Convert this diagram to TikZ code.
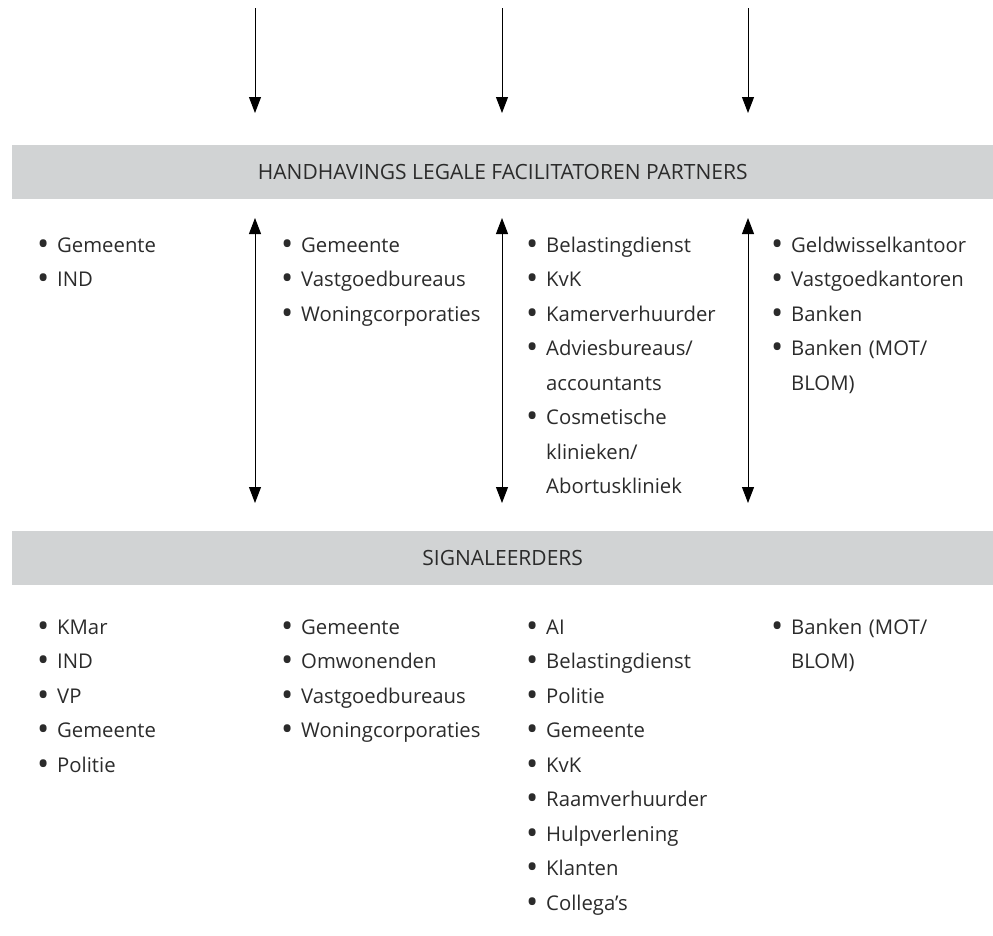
\documentclass[tikz,border=0pt]{standalone}
\usepackage{fontspec}
\usepackage{graphicx}
\setmainfont{Open Sans}
\usetikzlibrary{arrows.meta}
\definecolor{band}{HTML}{D1D3D4}
\definecolor{txt}{HTML}{2B2B2B}
\newcommand{\bul}{\makebox[0pt]{\raisebox{-3.2pt}{\scalebox{1.6}{•}}}}
\newcommand{\itm}[1]{\bul\hspace*{14pt}#1}
\newcommand{\cnt}[1]{\hspace*{14pt}#1}
\begin{document}
\begin{tikzpicture}[x=1pt,y=-1pt,
  bandbox/.style={fill=band,draw=none,minimum height=54pt,minimum width=981pt,inner sep=0pt,
    font=\fontsize{21}{24}\selectfont,text=txt},
  listbox/.style={anchor=base west,align=left,text width=220pt,inner sep=0pt,
    font=\fontsize{20.3}{34.5}\selectfont,text=txt},
  arr/.style={line width=0.9pt,-{Triangle[width=12pt,length=16pt]}},
  darr/.style={line width=0.9pt,{Triangle[width=12pt,length=16pt]}-{Triangle[width=12pt,length=16pt]}}]
\useasboundingbox (0,0) rectangle (993,935);
\node[bandbox,anchor=north west] (b1) at (12,145) {HANDHAVINGS LEGALE FACILITATOREN PARTNERS};
\node[bandbox,anchor=north west] (b2) at (12,531) {SIGNALEERDERS};
% top arrows
\coordinate (t1) at (255,8);
\coordinate (t2) at (502,8);
\coordinate (t3) at (748,8);
\coordinate (e1) at (255,113);
\coordinate (e2) at (502,113);
\coordinate (e3) at (748,113);
\draw[arr] (t1) -- (e1);
\draw[arr] (t2) -- (e2);
\draw[arr] (t3) -- (e3);
% double arrows
\coordinate (u1) at (255,218);
\coordinate (u2) at (502,218);
\coordinate (u3) at (748,218);
\coordinate (d1) at (255,503);
\coordinate (d2) at (502,503);
\coordinate (d3) at (748,503);
\draw[darr] (u1) -- (d1);
\draw[darr] (u2) -- (d2);
\draw[darr] (u3) -- (d3);
% upper lists
\node[listbox] (l1) at (43,252) {\itm{Gemeente}\\\itm{IND}};
\node[listbox] (l2) at (287,252) {\itm{Gemeente}\\\itm{Vastgoedbureaus}\\\itm{Woningcorporaties}};
\node[listbox] (l3) at (532,252) {\itm{Belastingdienst}\\\itm{KvK}\\\itm{Kamerverhuurder}\\\itm{Adviesbureaus/}\\\cnt{accountants}\\\itm{Cosmetische}\\\cnt{klinieken/}\\\cnt{Abortuskliniek}};
\node[listbox] (l4) at (777,252) {\itm{Geldwisselkantoor}\\\itm{Vastgoedkantoren}\\\itm{Banken}\\\itm{Banken (MOT/}\\\cnt{BLOM)}};
% lower lists
\node[listbox] (s1) at (43,634) {\itm{KMar}\\\itm{IND}\\\itm{VP}\\\itm{Gemeente}\\\itm{Politie}};
\node[listbox] (s2) at (287,634) {\itm{Gemeente}\\\itm{Omwonenden}\\\itm{Vastgoedbureaus}\\\itm{Woningcorporaties}};
\node[listbox] (s3) at (532,634) {\itm{AI}\\\itm{Belastingdienst}\\\itm{Politie}\\\itm{Gemeente}\\\itm{KvK}\\\itm{Raamverhuurder}\\\itm{Hulpverlening}\\\itm{Klanten}\\\itm{Collega’s}};
\node[listbox] (s4) at (777,634) {\itm{Banken (MOT/}\\\cnt{BLOM)}};
\end{tikzpicture}
\end{document}
